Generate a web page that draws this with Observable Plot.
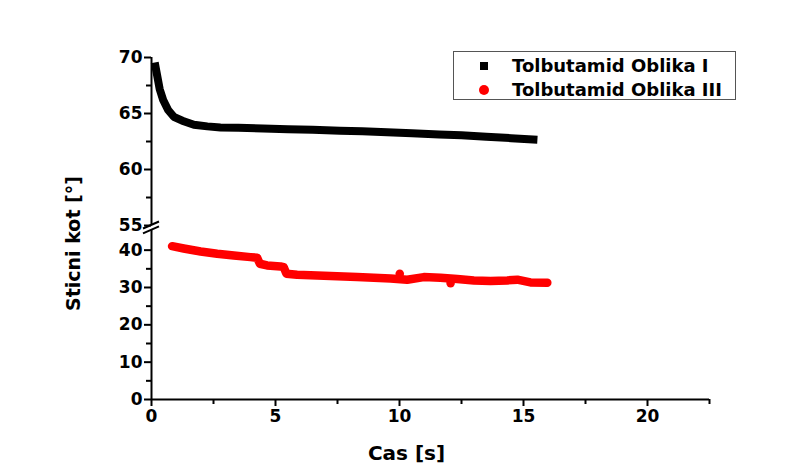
<!DOCTYPE html>
<html>
<head>
<meta charset="utf-8">
<script src="https://cdn.jsdelivr.net/npm/d3@7"></script>
<script src="https://cdn.jsdelivr.net/npm/@observablehq/plot@0.6"></script>
<style>
  html, body { margin: 0; padding: 0; background: #fff; }
  #wrap { position: relative; width: 803px; height: 470px; font-family: "DejaVu Sans", sans-serif; font-weight: bold; }
  #legend { position: absolute; left: 453px; top: 51px; width: 283px; height: 49px; border: 1px solid #555; background: #fff; box-sizing: border-box; }
  .li { position: absolute; left: 58px; font-size: 18px; line-height: 18px; white-space: nowrap; color: #000; }
  .sym { position: absolute; }
</style>
</head>
<body>
<div id="wrap"></div>
<script>
// ---- data ----
const seriesNames = ["Tolbutamid Oblika I", "Tolbutamid Oblika III"];

const timeI  = [0.16, 0.23, 0.33, 0.47, 0.67, 0.90, 1.24, 1.71, 2.25, 2.78, 3.5, 4.5, 5.5, 6.5, 7.6, 8.5, 9.5, 10.5, 11.6, 12.5, 13.5, 14.5, 15.4];
const angleI = [69.2, 68.37, 67.18, 66.2, 65.31, 64.71, 64.36, 64.0, 63.85, 63.76, 63.72, 63.66, 63.6, 63.55, 63.47, 63.42, 63.33, 63.24, 63.12, 63.05, 62.93, 62.8, 62.68];

const timeIII  = [0.83, 1.30, 1.98, 2.65, 3.32, 3.99, 4.26, 4.37, 4.66, 5.20, 5.33, 5.44, 5.87, 6.95, 8.29, 9.64, 10.31, 10.98, 11.65, 12.33, 13.0, 13.67, 14.34, 14.75, 15.28, 15.96];
const angleIII = [41.07, 40.45, 39.65, 39.03, 38.58, 38.13, 37.97, 36.36, 35.9, 35.64, 35.45, 33.7, 33.42, 33.16, 32.78, 32.43, 32.09, 32.78, 32.62, 32.25, 31.9, 31.71, 31.9, 32.09, 31.36, 31.28];
const outTimeIII  = [10.01, 12.06];
const outAngleIII = [33.7, 31.18];

const xMajor = [0, 5, 10, 15, 20];
const xMinor = [2.5, 7.5, 12.5, 17.5, 22.5];
const yMajorLow = [0, 10, 20, 30, 40];
const yMinorLow = [5, 15, 25, 35];
const yMajorHigh = [55, 60, 65, 70];
const yMinorHigh = [57.5, 62.5, 67.5];

// ---- broken axis transform ----
const lowTop = 45.3;         // top of lower segment (value)
const highBottom = 55;       // bottom of upper segment (value)
const highBase = 46.6;       // plotting coordinate of 55
const highFactor = 3;        // upper segment stretch
const T = v => v <= 50 ? v : highBase + (v - highBottom) * highFactor;

const dataI = timeI.map((t, i) => ({t, v: angleI[i]}));
const dataIII = timeIII.map((t, i) => ({t, v: angleIII[i]}));
const outIII = outTimeIII.map((t, i) => ({t, v: outAngleIII[i]}));

const labelMap = new Map([...yMajorLow, ...yMajorHigh].map(v => [T(v), v]));

const font = "DejaVu Sans";
const plot = Plot.plot({
  width: 803,
  height: 470,
  marginLeft: 151,
  marginRight: 94,
  marginTop: 57,
  marginBottom: 71,
  style: {fontFamily: font, fontSize: "17px", fontWeight: "bold", color: "#000", background: "transparent"},
  x: {domain: [0, 22.5], axis: null},
  y: {domain: [0, T(70)], axis: null},
  marks: [
    Plot.axisX({ticks: xMajor, tickSize: 7, tickPadding: 3, strokeWidth: 2, label: null, tickFormat: d => String(d)}),
    Plot.axisX({ticks: xMinor, tickSize: 5, strokeWidth: 2, label: null, tickFormat: () => ""}),
    Plot.axisY({ticks: [...yMajorLow, ...yMajorHigh].map(T), tickSize: 7, tickPadding: 2, strokeWidth: 2, label: null, tickFormat: t => String(labelMap.get(t))}),
    Plot.axisY({ticks: [...yMinorLow, ...yMinorHigh].map(T), tickSize: 5, strokeWidth: 2, label: null, tickFormat: () => ""}),
    Plot.ruleY([0], {strokeWidth: 2}),
    Plot.ruleX([0], {y1: 0, y2: lowTop, strokeWidth: 2}),
    Plot.ruleX([0], {y1: T(highBottom), y2: T(70), strokeWidth: 2}),
    Plot.line(dataI, {x: "t", y: d => T(d.v), stroke: "#000", strokeWidth: 8, strokeLinecap: "square", strokeLinejoin: "round"}),
    Plot.line(dataIII, {x: "t", y: d => T(d.v), stroke: "#ff0000", strokeWidth: 8.5, strokeLinecap: "round", strokeLinejoin: "round"}),
    Plot.dot(outIII, {x: "t", y: d => T(d.v), r: 4.3, fill: "#ff0000", stroke: null}),
    Plot.text(["Cas [s]"], {frameAnchor: "bottom", dx: -24, dy: 54, fontSize: 20, fontWeight: "bold", lineAnchor: "middle"}),
    Plot.text(["Sticni kot [°]"], {frameAnchor: "left", textAnchor: "middle", rotate: -90, dx: -78, dy: 15, fontSize: 19, fontWeight: "bold", lineAnchor: "middle"})
  ]
});

const wrap = document.getElementById("wrap");
wrap.appendChild(plot);

// axis-break marks, positioned through the plot's scales
const sx = plot.scale("x"), sy = plot.scale("y");
const bx = sx.apply(0);
const svg = d3.select(plot);
[T(highBottom), lowTop].forEach(tv => {
  const by = sy.apply(tv);
  svg.append("line")
    .attr("x1", bx - 8).attr("y1", by + 3.5)
    .attr("x2", bx + 8).attr("y2", by - 3.5)
    .attr("stroke", "#000").attr("stroke-width", 2);
});

// legend
const legend = document.createElement("div");
legend.id = "legend";
legend.innerHTML = `
  <div class="sym" style="left:26px;top:10px;width:8px;height:8px;background:#000"></div>
  <div class="li" style="top:5px">${seriesNames[0]}</div>
  <div class="sym" style="left:25px;top:33px;width:10px;height:10px;border-radius:50%;background:#ff0000"></div>
  <div class="li" style="top:29px">${seriesNames[1]}</div>`;
wrap.appendChild(legend);
</script>
</body>
</html>
